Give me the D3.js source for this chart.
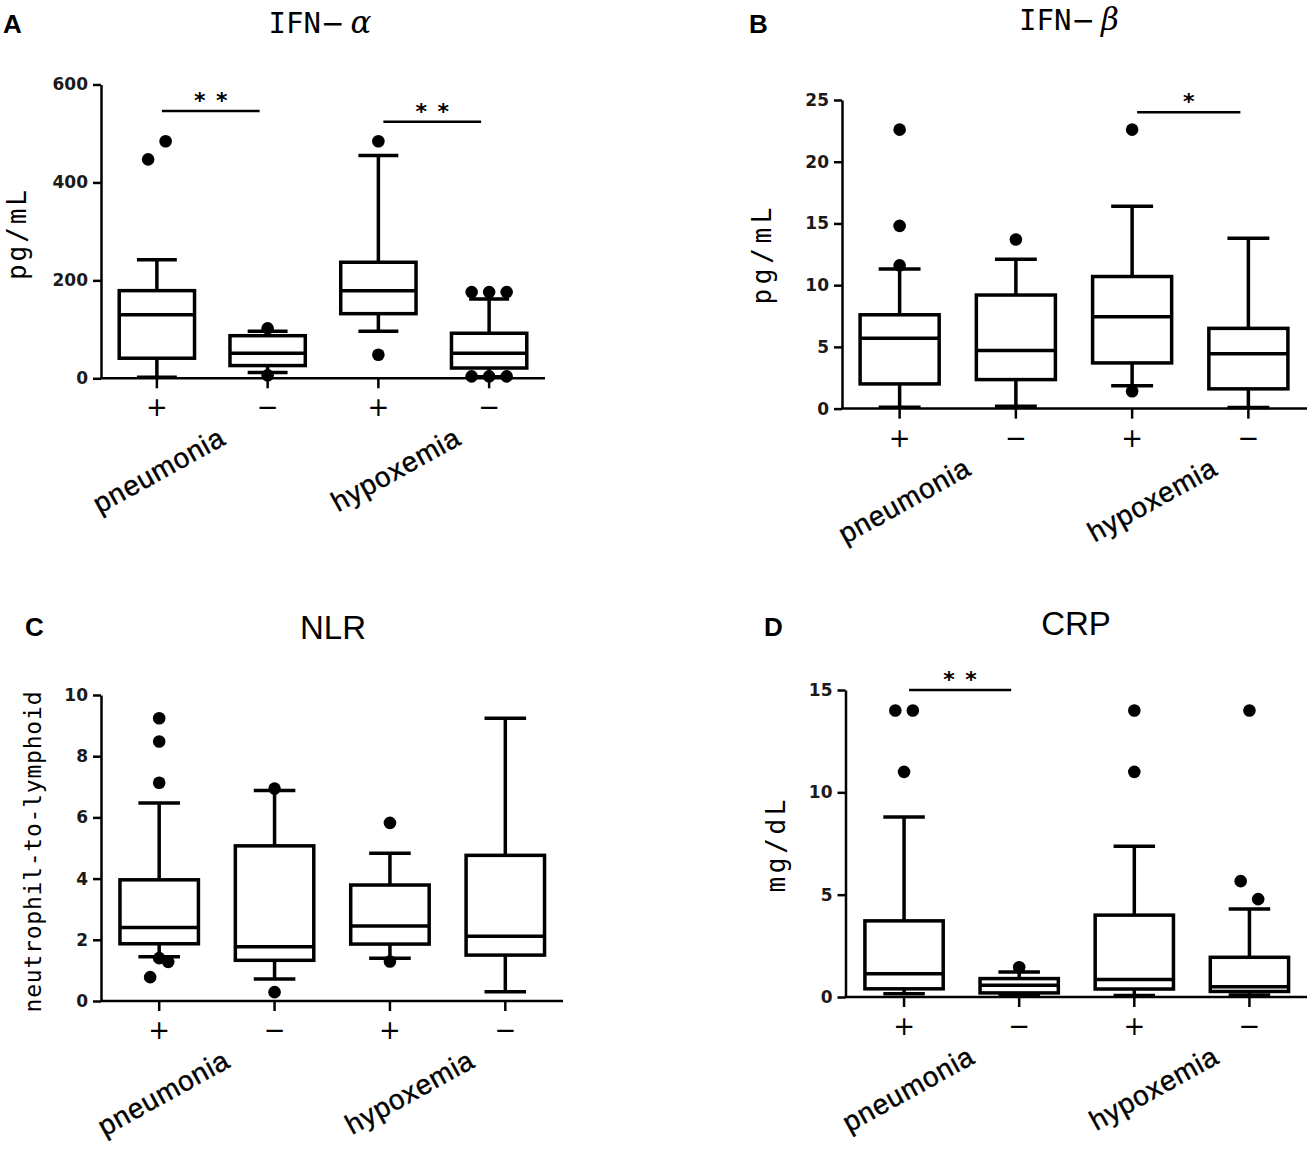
<!DOCTYPE html>
<html><head><meta charset="utf-8">
<script src="https://cdn.jsdelivr.net/npm/d3@7"></script>
<style>body{margin:0;background:#fff}</style>
</head><body><svg id="c" width="1310" height="1164"></svg>
<script>
// ---------- data ----------
const categories = ["+", "\u2212", "+", "\u2212"];
const groups = ["pneumonia", "hypoxemia"];

// boxes: [lower whisker, Q1, median, Q3, upper whisker] per category
const ifnAlphaBoxes = [[2, 41, 130, 179, 242], [12, 26, 51, 87, 96], [96, 132, 179, 237, 455], [3, 21, 51, 92, 162]];
const ifnAlphaOutliers = [[447, 484], [102, 6], [484, 48], [176, 176, 176, 4, 4, 4]];
const ifnAlphaTicks = [0, 200, 400, 600];
const ifnAlphaSig = [[0, 1, 546, 2], [2, 3, 524, 2]];

const ifnBetaBoxes = [[0.1, 2.0, 5.7, 7.6, 11.3], [0.2, 2.35, 4.7, 9.2, 12.1], [1.85, 3.7, 7.45, 10.7, 16.4], [0.08, 1.6, 4.45, 6.5, 13.8]];
const ifnBetaOutliers = [[22.6, 14.8, 11.6], [13.7], [22.6, 1.4], []];
const ifnBetaTicks = [0, 5, 10, 15, 20, 25];
const ifnBetaSig = [[2, 3, 24.0, 1]];

const nlrBoxes = [[1.45, 1.87, 2.4, 3.96, 6.47], [0.72, 1.33, 1.77, 5.07, 6.88], [1.4, 1.86, 2.45, 3.79, 4.83], [0.3, 1.5, 2.12, 4.76, 9.24]];
const nlrOutliers = [[9.24, 8.48, 7.13, 0.78, 1.4, 1.28], [6.94, 0.29], [5.82, 1.29], []];
const nlrTicks = [0, 2, 4, 6, 8, 10];
const nlrSig = [];

const crpBoxes = [[0.16, 0.4, 1.14, 3.72, 8.8], [0.1, 0.2, 0.58, 0.9, 1.22], [0.07, 0.39, 0.86, 4.0, 7.37], [0.1, 0.27, 0.5, 1.94, 4.3]];
const crpOutliers = [[14, 14, 11], [1.45], [14, 11], [14, 5.66, 4.78]];
const crpTicks = [0, 5, 10, 15];
const crpSig = [[0, 1, 15, 2]];

// ---------- layout ----------
const panels = [
  {letter: "A", title: ["IFN", "\u03b1"], yLabel: "pg/mL", boxes: ifnAlphaBoxes, outliers: ifnAlphaOutliers, ticks: ifnAlphaTicks, sig: ifnAlphaSig,
   L: {ax: 101, x0: 101.5, x1: 544.5, xEnd: 545, y0: 378.3, y1: 84.5, letter: [3, 33], title: [320, 33], ylab: [26, 235, 90]}},
  {letter: "B", title: ["IFN", "\u03b2"], yLabel: "pg/mL", boxes: ifnBetaBoxes, outliers: ifnBetaOutliers, ticks: ifnBetaTicks, sig: ifnBetaSig,
   L: {ax: 842, x0: 841.5, x1: 1306.5, xEnd: 1307, y0: 408.6, y1: 100, letter: [749, 33], title: [1069, 30], ylab: [771, 256, 97]}},
  {letter: "C", title: ["NLR"], yLabel: "neutrophil-to-lymphoid", boxes: nlrBoxes, outliers: nlrOutliers, ticks: nlrTicks, sig: nlrSig,
   L: {ax: 101, x0: 101.5, x1: 563, xEnd: 563, y0: 1001, y1: 695, letter: [25, 636], title: [333, 639], ylab: [41, 852, 321]}},
  {letter: "D", title: ["CRP"], yLabel: "mg/dL", boxes: crpBoxes, outliers: crpOutliers, ticks: crpTicks, sig: crpSig,
   L: {ax: 845.5, x0: 846.5, x1: 1307, xEnd: 1307, y0: 997, y1: 690, letter: [764, 636], title: [1076, 635], ylab: [785, 846, 93]}}
];

const svg = d3.select("#c");
const LW = 3.5, AW = 2.5, R = 6.3;

panels.forEach(p => {
  const L = p.L;
  const g = svg.append("g");
  const x = d3.scaleBand().domain(d3.range(categories.length)).range([L.x0, L.x1]);
  const y = d3.scaleLinear().domain([0, d3.max(p.ticks)]).range([L.y0, L.y1]);
  const cx = i => x(i) + x.bandwidth() / 2;
  const bw = x.bandwidth() * 0.68, cw = bw * 0.53;

  // panel letter
  g.append("text").attr("x", L.letter[0]).attr("y", L.letter[1]).text(p.letter)
    .attr("font-family", "Liberation Sans, Arial, sans-serif").attr("font-weight", "bold").attr("font-size", 26);

  // title
  const t = g.append("text").attr("x", L.title[0]).attr("y", L.title[1]).attr("text-anchor", "middle");
  if (p.title.length === 2) {
    t.append("tspan").text(p.title[0]).attr("font-family", "DejaVu Sans Mono, monospace").attr("font-size", 29);
    t.append("tspan").text("\u2212").attr("font-family", "DejaVu Sans, sans-serif").attr("font-size", 28);
    t.append("tspan").text(p.title[1]).attr("dx", 6).attr("font-family", "DejaVu Serif, serif").attr("font-style", "italic").attr("font-size", 31);
  } else {
    t.text(p.title[0]).attr("font-family", "Liberation Sans, Arial, sans-serif").attr("font-size", 33);
  }

  // y axis label
  g.append("text").attr("transform", `translate(${L.ylab[0]},${L.ylab[1]}) rotate(-90)`)
    .attr("text-anchor", "middle").attr("font-family", "DejaVu Sans Mono, monospace")
    .attr("font-size", p.yLabel.length > 10 ? 23 : 26)
    .attr("textLength", L.ylab[2]).attr("lengthAdjust", "spacing").text(p.yLabel);

  // y axis
  const ya = g.append("g").attr("transform", `translate(${L.ax},0)`)
    .call(d3.axisLeft(y).tickValues(p.ticks).tickSize(8).tickPadding(5).tickSizeOuter(0));
  ya.select(".domain").attr("stroke-width", AW).attr("stroke", "#000");
  ya.selectAll(".tick line").attr("stroke-width", AW).attr("stroke", "#000");
  ya.selectAll(".tick text").attr("font-family", "DejaVu Sans, sans-serif").attr("font-weight", "bold")
    .attr("font-size", 17).attr("fill", "#1a1a1a");

  // x axis
  g.append("line").attr("x1", L.ax - 1).attr("x2", L.xEnd).attr("y1", L.y0).attr("y2", L.y0)
    .attr("stroke", "#000").attr("stroke-width", AW);
  categories.forEach((c, i) => {
    g.append("line").attr("x1", cx(i)).attr("x2", cx(i)).attr("y1", L.y0).attr("y2", L.y0 + 10)
      .attr("stroke", "#000").attr("stroke-width", AW);
    g.append("text").attr("x", cx(i)).attr("y", L.y0 + 29).attr("text-anchor", "middle")
      .attr("dominant-baseline", "central").attr("font-family", "DejaVu Sans, sans-serif").attr("font-size", 26).text(c);
  });
  groups.forEach((gr, k) => {
    const gx = (cx(2 * k) + cx(2 * k + 1)) / 2 + 15 + 14 * k;
    g.append("text").attr("transform", `translate(${gx},${L.y0 + 65}) rotate(-29)`)
      .attr("text-anchor", "end").attr("font-family", "Liberation Sans, Arial, sans-serif").attr("font-size", 28)
      .attr("letter-spacing", 0.8).attr("stroke", "#000").attr("stroke-width", 0.4).text(gr);
  });

  // boxes
  p.boxes.forEach((b, i) => {
    const c = cx(i);
    const [wl, q1, med, q3, wh] = b;
    g.append("line").attr("x1", c).attr("x2", c).attr("y1", y(wh)).attr("y2", y(wl)).attr("stroke", "#000").attr("stroke-width", LW);
    g.append("rect").attr("x", c - bw / 2).attr("width", bw).attr("y", y(q3)).attr("height", Math.max(0.5, y(q1) - y(q3)))
      .attr("fill", "#fff").attr("stroke", "#000").attr("stroke-width", LW);
    g.append("line").attr("x1", c - bw / 2).attr("x2", c + bw / 2).attr("y1", y(med)).attr("y2", y(med)).attr("stroke", "#000").attr("stroke-width", LW);
    [wl, wh].forEach(v => g.append("line").attr("x1", c - cw / 2).attr("x2", c + cw / 2).attr("y1", y(v)).attr("y2", y(v))
      .attr("stroke", "#000").attr("stroke-width", LW));
  });

  // outliers with symmetric spreading of near-coincident dots
  p.outliers.forEach((vals, i) => {
    const order = vals.map((v, k) => k).sort((a, b) => vals[b] - vals[a]);
    const clusters = [];
    order.forEach(k => {
      const last = clusters[clusters.length - 1];
      if (last && Math.abs(y(vals[k]) - y(vals[last[last.length - 1]])) < 20) last.push(k);
      else clusters.push([k]);
    });
    clusters.forEach(cl => {
      cl.sort((a, b) => a - b);
      const tight = d3.max(cl, (k, j) => j ? 0 : 0);
      let minGap = Infinity;
      cl.forEach(a => cl.forEach(b => { if (a !== b) minGap = Math.min(minGap, Math.abs(y(vals[a]) - y(vals[b]))); }));
      const step = minGap < 8 && cl.length > 2 && d3.extent(cl, k => y(vals[k])).reduce((u, v) => v - u) > 12 ? 9 : 17.5;
      cl.forEach((k, j) => {
        g.append("circle").attr("cx", cx(i) + (j - (cl.length - 1) / 2) * step).attr("cy", y(vals[k])).attr("r", R).attr("fill", "#000");
      });
    });
  });

  // significance bars with asterisks
  p.sig.forEach(([a, b, v, n]) => {
    const xa = cx(a) + 5, xb = cx(b) - 8, yy = y(v), mid = (xa + xb) / 2;
    g.append("line").attr("x1", xa).attr("x2", xb).attr("y1", yy).attr("y2", yy).attr("stroke", "#000").attr("stroke-width", 2.5);
    d3.range(n).forEach(j => {
      g.append("text").attr("x", mid + (j - (n - 1) / 2) * 22).attr("y", yy - 3).attr("text-anchor", "middle")
        .attr("font-family", "DejaVu Sans, sans-serif").attr("font-weight", "bold").attr("font-size", 22).text("*");
    });
  });
});
</script></body></html>
